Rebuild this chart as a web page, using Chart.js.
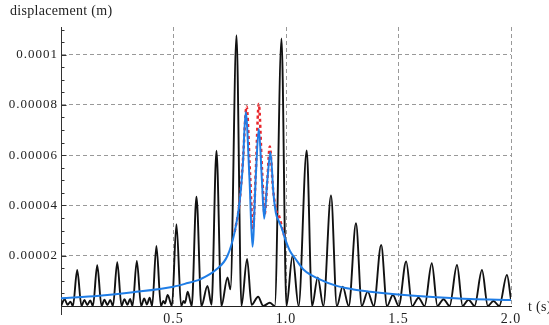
<!DOCTYPE html>
<html>
<head>
<meta charset="utf-8">
<script src="https://cdn.jsdelivr.net/npm/chart.js@4"></script>
<style>
  body { margin: 0; background: #fff; }
  #wrap { width: 549px; height: 325px; }
</style>
</head>
<body>
<div id="wrap"><canvas id="chart" width="549" height="325"></canvas></div>
<script>
// displacement values below are in units of 1e-5 m
const SCALE = 1e-5;

// black curve: peaks and troughs (t in s)
const blackT = [
  0.000, 0.016, 0.029, 0.042, 0.053, 0.072, 0.091, 0.104, 0.117, 0.130,
  0.142, 0.161, 0.180, 0.193, 0.206, 0.219, 0.231, 0.250, 0.269, 0.282,
  0.295, 0.307, 0.318, 0.337, 0.356, 0.370, 0.382, 0.394, 0.405, 0.424,
  0.444, 0.455, 0.462, 0.474, 0.493, 0.513, 0.534, 0.545, 0.551, 0.563,
  0.581, 0.602, 0.624, 0.651, 0.669, 0.691, 0.713, 0.740, 0.753, 0.780,
  0.802, 0.827, 0.847, 0.876, 0.899, 0.928, 0.950, 0.980, 1.002, 1.029,
  1.056, 1.092, 1.116, 1.141, 1.166, 1.200, 1.226, 1.252, 1.279, 1.311,
  1.337, 1.363, 1.390, 1.423, 1.449, 1.475, 1.501, 1.534, 1.561, 1.589,
  1.616, 1.648, 1.673, 1.700, 1.727, 1.760, 1.785, 1.811, 1.838, 1.871,
  1.897, 1.922, 1.948, 1.982, 2.000
];
const blackV = [
  0.00, 0.27, 0.05, 0.17, 0.00, 1.43, 0.00, 0.24, 0.04, 0.22,
  0.00, 1.62, 0.00, 0.25, 0.04, 0.24, 0.00, 1.74, 0.00, 0.27,
  0.05, 0.28, 0.00, 1.79, 0.00, 0.30, 0.06, 0.33, 0.00, 2.39,
  0.00, 0.20, 0.10, 0.44, 0.00, 3.25, 0.00, 0.20, 0.12, 0.57,
  0.00, 4.35, 0.00, 0.80, 0.05, 6.18, 0.00, 1.14, 0.66, 10.77,
  0.00, 1.87, 0.05, 0.37, 0.00, 0.13, 0.00, 10.64, 0.00, 2.00,
  0.00, 6.19, 0.00, 1.14, 0.00, 4.40, 0.00, 0.77, 0.00, 3.29,
  0.00, 0.57, 0.00, 2.43, 0.00, 0.44, 0.00, 1.77, 0.00, 0.33,
  0.00, 1.70, 0.00, 0.27, 0.00, 1.63, 0.00, 0.25, 0.00, 1.43,
  0.00, 0.20, 0.00, 1.24, 0.24
];

// blue curve
const blueT = [
  0.00, 0.17, 0.32, 0.50, 0.55, 0.62, 0.69, 0.74, 0.772, 0.792,
  0.808, 0.821, 0.838, 0.851, 0.866, 0.879, 0.893, 0.903, 0.917, 0.931,
  0.944, 0.955, 0.968, 0.983, 0.995, 1.017, 1.04, 1.08, 1.15, 1.225,
  1.30, 1.374, 1.485, 1.67, 1.82, 2.00
];
const blueV = [
  0.31, 0.41, 0.55, 0.77, 0.88, 1.07, 1.45, 2.00, 2.95, 4.00,
  5.60, 7.72, 5.00, 2.36, 5.20, 7.05, 5.00, 3.47, 5.00, 6.11,
  4.50, 3.70, 3.38, 3.05, 2.70, 2.20, 1.90, 1.43, 1.06, 0.80,
  0.66, 0.57, 0.47, 0.35, 0.28, 0.24
];

// red dashed curve (only visible near resonance, elsewhere under the blue)
const redT = [0.772, 0.792, 0.808, 0.825, 0.840, 0.853, 0.866, 0.879, 0.893,
  0.905, 0.917, 0.928, 0.942, 0.955, 0.970, 0.983, 0.995];
const redV = [2.95, 4.00, 5.70, 7.94, 5.30, 3.05, 5.40, 8.04, 5.50,
  3.65, 5.00, 6.35, 4.70, 3.85, 3.56, 3.10, 2.70];

const xTicks = [0.5, 1.0, 1.5, 2.0];
const yTicks = [0.00002, 0.00004, 0.00006, 0.00008, 0.0001];

const pts = (ts, vs) => ts.map((t, i) => ({ x: t, y: vs[i] * SCALE }));

const serif = '"Liberation Serif", "Times New Roman", serif';

// axis titles, inward tick marks
const decor = {
  id: 'decor',
  beforeDraw(chart) {
    chart.ctx.letterSpacing = '1px';
  },
  afterDraw(chart) {
    const { ctx, chartArea: a, scales: { y } } = chart;
    ctx.save();
    ctx.strokeStyle = '#333';
    ctx.lineWidth = 1;
    ctx.beginPath();
    const lx = Math.round(a.left) + 0.5;
    for (let i = 1; i * 5e-6 <= y.max; i++) {
      const py = Math.round(y.getPixelForValue(i * 5e-6)) + 0.5;
      ctx.moveTo(lx, py);
      ctx.lineTo(lx + (i % 4 === 0 ? 5 : 3), py);
    }
    ctx.moveTo(lx, a.bottom);
    ctx.lineTo(lx, a.bottom + 9);
    ctx.stroke();

    ctx.fillStyle = '#222';
    ctx.letterSpacing = '0.3px';
    ctx.font = '14px ' + serif;
    ctx.textAlign = 'left';
    ctx.textBaseline = 'alphabetic';
    ctx.fillText('displacement (m)', 10, 15);
    ctx.textBaseline = 'middle';
    ctx.fillText('t (s)', a.right + 17, a.bottom + 1);
    ctx.restore();
  }
};

new Chart(document.getElementById('chart'), {
  type: 'line',
  data: {
    datasets: [
      {
        data: pts(blueT, blueV),
        borderColor: '#1f7de6',
        borderWidth: 2,
        cubicInterpolationMode: 'monotone',
        pointRadius: 0,
        order: 0
      },
      {
        data: pts(redT, redV),
        borderColor: '#e8262b',
        borderWidth: 2.5,
        borderDash: [3, 3],
        cubicInterpolationMode: 'monotone',
        pointRadius: 0,
        order: 1
      },
      {
        data: pts(blackT, blackV),
        borderColor: '#111',
        borderWidth: 1.9,
        cubicInterpolationMode: 'monotone',
        pointRadius: 0,
        order: 2
      }
    ]
  },
  options: {
    responsive: false,
    animation: false,
    events: [],
    layout: { padding: { top: 27, right: 38, left: 0, bottom: 0 } },
    plugins: { legend: { display: false }, tooltip: { enabled: false } },
    scales: {
      x: {
        type: 'linear',
        min: 0,
        max: 2.0,
        afterFit: s => { s.height = 19; },
        afterBuildTicks: s => { s.ticks = xTicks.map(v => ({ value: v })); },
        ticks: {
          padding: 5,
          color: '#222',
          font: { family: serif, size: 14 },
          callback: v => v.toFixed(1)
        },
        grid: { color: '#999', lineWidth: 1, drawTicks: false },
        border: { color: '#222', width: 1, dash: [4, 3] }
      },
      y: {
        min: 0,
        max: 0.000111,
        afterFit: s => { s.width = 61; },
        afterBuildTicks: s => { s.ticks = yTicks.map(v => ({ value: v })); },
        ticks: {
          padding: 3,
          color: '#222',
          font: { family: serif, size: 13 },
          callback: v => String(v)
        },
        grid: { color: '#999', lineWidth: 1, drawTicks: false },
        border: { color: '#333', width: 1, dash: [4, 3] }
      }
    }
  },
  plugins: [decor]
});
</script>
</body>
</html>
